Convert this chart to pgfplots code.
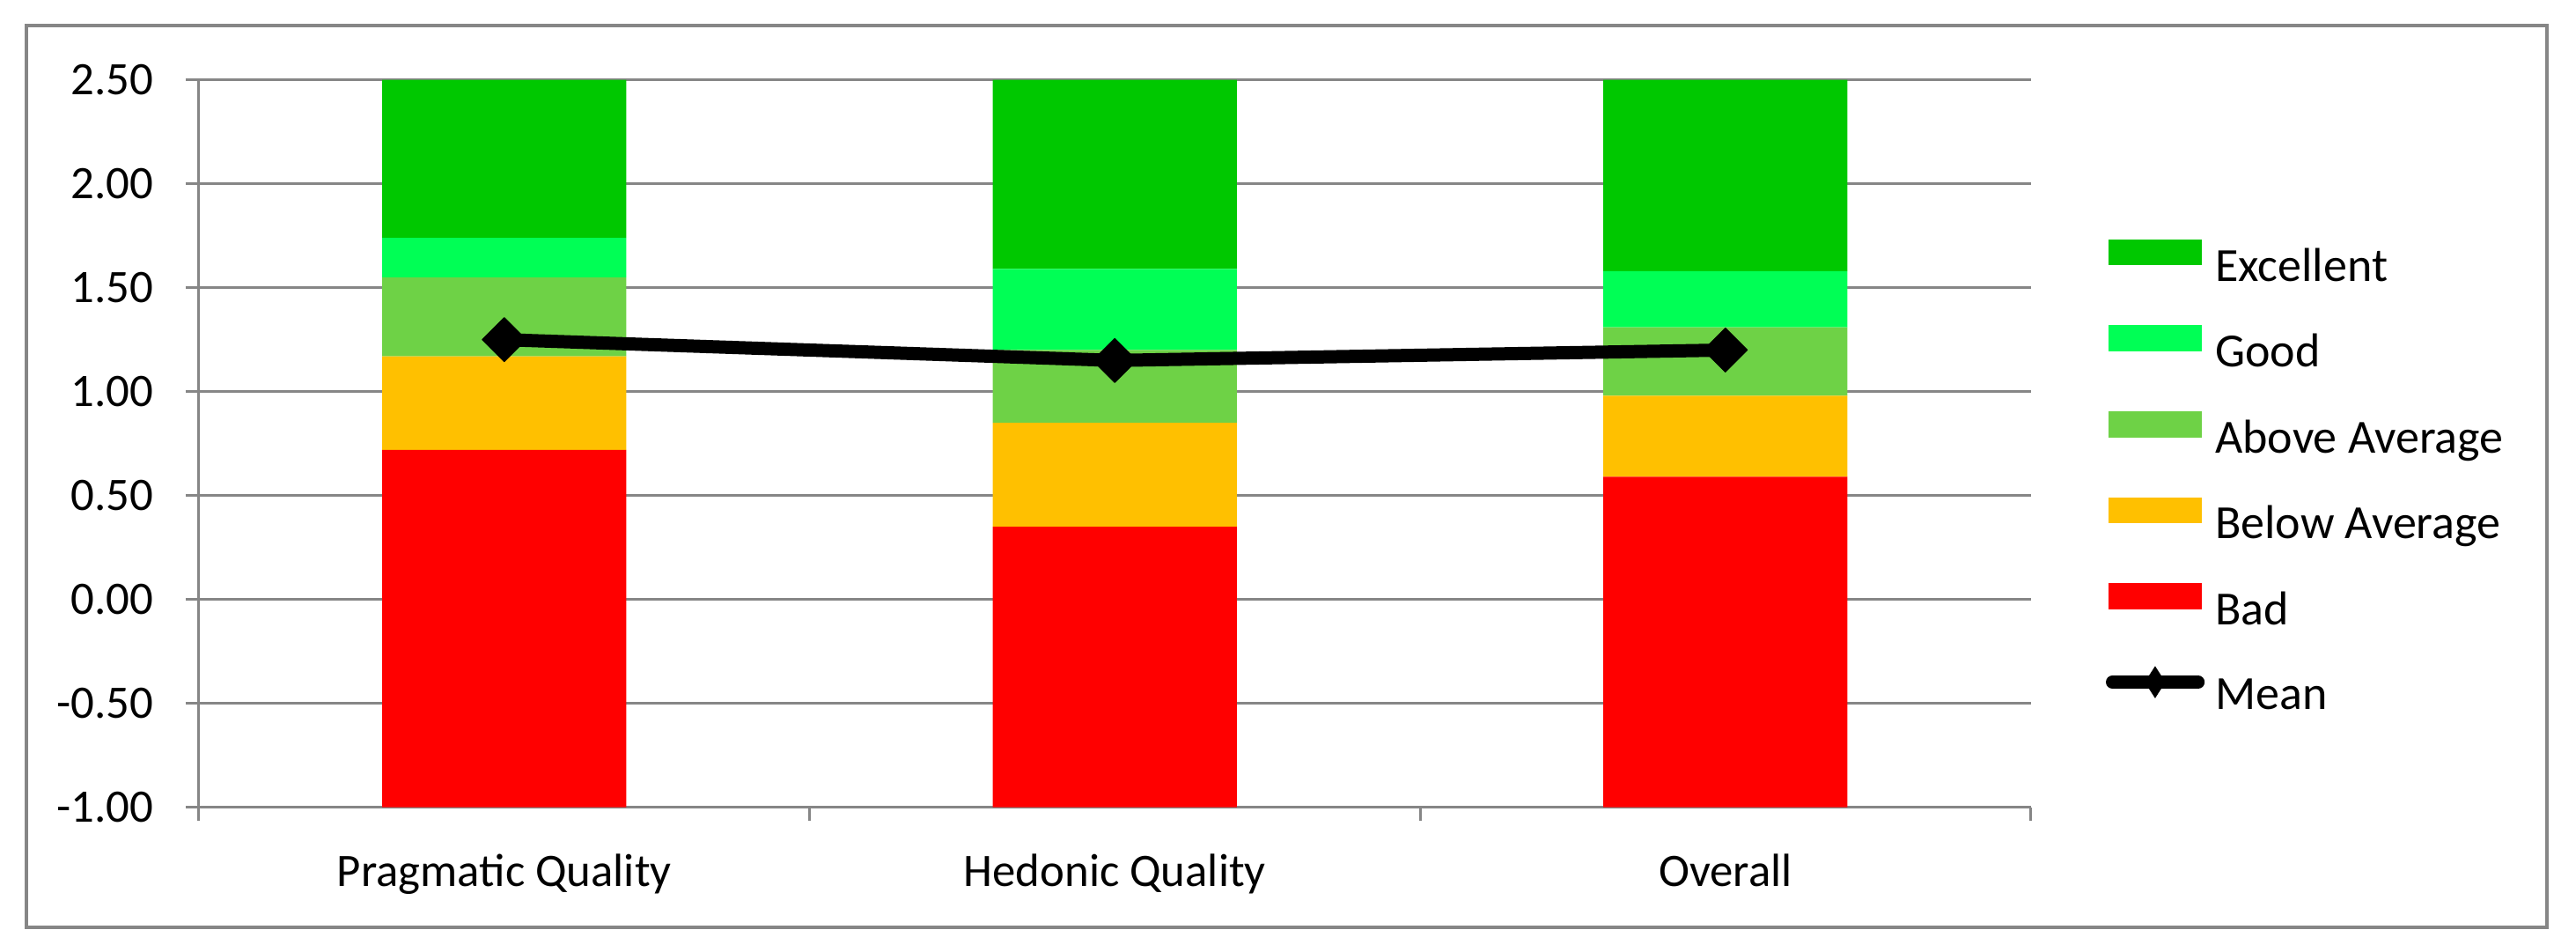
\documentclass[border=0pt]{standalone}
\usepackage{fontspec}
\setmainfont{Carlito}
\usepackage{pgfplots}
\usepackage{pgfplotstable}
\pgfplotsset{compat=1.18}
\definecolor{cExc}{RGB}{0,200,0}
\definecolor{cGood}{RGB}{0,255,85}
\definecolor{cAbove}{RGB}{110,210,70}
\definecolor{cBelow}{RGB}{255,192,0}
\definecolor{cBad}{RGB}{255,0,0}
\definecolor{gridgray}{RGB}{134,134,134}

% benchmark bands, stacked from the axis bottom (-1)
\pgfplotstableread{
x base bad below above good exc
0 -1 1.72 0.45 0.38 0.19 0.76
1 -1 1.35 0.50 0.35 0.39 0.91
2 -1 1.59 0.39 0.33 0.27 0.92
}\bands
\pgfplotstableread{
x mean
0 1.25
1 1.15
2 1.20
}\means

\pgfplotsset{base/.style={scale only axis, width=520.125pt, height=206.5pt,
  xmin=-0.5, xmax=2.5, ymin=-1, ymax=2.5}}

\newcommand{\fs}{\fontsize{13.2pt}{15pt}\selectfont}
\newcommand{\fl}{\fontsize{13.5pt}{15pt}\selectfont}

\begin{document}
\begin{tikzpicture}
\path[use as bounding box] (-56.5pt,-41.075pt) rectangle (675pt,229.175pt);
\draw[gridgray, line width=1.1pt] (-49pt,-34.075pt) rectangle (666.75pt,221.925pt);
\begin{axis}[base,
  ybar stacked, stack negative=on previous, bar width=0.4,
  axis x line*=bottom, axis y line*=left,
  axis line style={gridgray, line width=0.75pt, -},
  ymajorgrids, grid style={gridgray, line width=0.75pt},
  tick align=outside, major tick length=3.8pt,
  tick style={gridgray, line width=0.75pt},
  ytick={-1,-0.5,0,0.5,1,1.5,2,2.5},
  scaled y ticks=false,
  /pgf/number format/assume math mode=true,
  yticklabel style={/pgf/number format/.cd, fixed, fixed zerofill, precision=2, /tikz/.cd,
     font=\fs, anchor=east, inner sep=0pt, xshift=-9pt},
  xtick={-0.5,0.5,1.5,2.5}, xticklabels={},
  extra x ticks={0,1,2},
  extra x tick labels={Pragmatic Quality, Hedonic Quality, Overall},
  extra x tick style={major tick length=0pt,
     xticklabel style={font=\fs, anchor=north, inner sep=0pt, yshift=-13.2pt}},
  legend style={draw=none, fill=none, at={(1.0411,0.4539)}, anchor=west,
     inner sep=0pt, outer sep=0pt, font=\fl,
     row sep={24.4pt,between origins}, column sep=3pt,
     nodes={inner sep=0pt}},
  legend cell align=left,
]
\addlegendimage{legend image code/.code={\fill[cExc] (0pt,0.7pt) rectangle (26.25pt,7.7pt);}}
\addlegendentry{Excellent}
\addlegendimage{legend image code/.code={\fill[cGood] (0pt,0.7pt) rectangle (26.25pt,7.7pt);}}
\addlegendentry{Good}
\addlegendimage{legend image code/.code={\fill[cAbove] (0pt,0.7pt) rectangle (26.25pt,7.7pt);}}
\addlegendentry{Above Average}
\addlegendimage{legend image code/.code={\fill[cBelow] (0pt,0.7pt) rectangle (26.25pt,7.7pt);}}
\addlegendentry{Below Average}
\addlegendimage{legend image code/.code={\fill[cBad] (0pt,0.7pt) rectangle (26.25pt,7.7pt);}}
\addlegendentry{Bad}
\addlegendimage{legend image code/.code={\draw[black, line width=3.75pt, line cap=round] (1pt,4.2pt) -- (25.3pt,4.2pt);
   \fill[black] (13.1pt,8.4pt) -- (15.8pt,4.2pt) -- (13.1pt,0pt) -- (10.4pt,4.2pt) -- cycle;}}
\addlegendentry{Mean}
\addplot[draw=none, fill=none, forget plot] table[x=x, y=base]{\bands};
\addplot[draw=none, fill=cBad, forget plot] table[x=x, y=bad]{\bands};
\addplot[draw=none, fill=cBelow, forget plot] table[x=x, y=below]{\bands};
\addplot[draw=none, fill=cAbove, forget plot] table[x=x, y=above]{\bands};
\addplot[draw=none, fill=cGood, forget plot] table[x=x, y=good]{\bands};
\addplot[draw=none, fill=cExc, forget plot] table[x=x, y=exc]{\bands};
\end{axis}
\begin{axis}[base, hide axis]
\addplot[black, line width=3.75pt, line join=round, mark=square*, mark size=4.4pt,
   mark options={rotate=45, solid, fill=black, line width=0.3pt}] table[x=x, y=mean]{\means};
\end{axis}
\end{tikzpicture}
\end{document}
